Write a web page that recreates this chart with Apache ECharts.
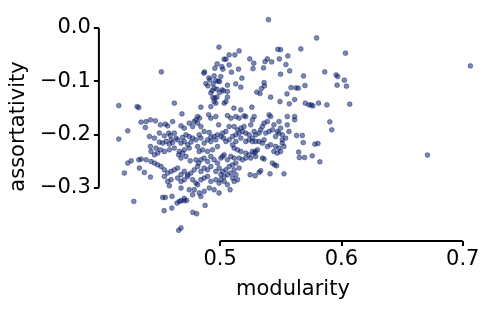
<!DOCTYPE html>
<html><head><meta charset="utf-8">
<script src="https://cdn.jsdelivr.net/npm/echarts@6/dist/echarts.min.js"></script>
<style>html,body{margin:0;padding:0;background:#fff}#c{width:498px;height:309px}</style>
</head><body><div id="c"></div>
<script>
const xTicks = [0.5, 0.6, 0.7];
const yTicks = [-0.3, -0.2, -0.1, 0.0];
const xName = 'modularity';
const yName = 'assortativity';
const modularity = [
0.499,0.4975,0.4515,0.4956,0.4871,0.4866,0.495,0.4915,0.4964,0.4983,0.4882,0.4899,0.4942,0.4995,0.495,0.4973,0.4934,0.4995,0.494,0.4956,0.4973,0.4923,0.4907,
0.5398,0.5795,0.6033,0.5665,0.5476,0.5498,0.5558,0.5074,0.5121,0.5156,0.5033,0.5047,0.5014,0.5022,0.5074,0.5093,0.5151,0.5244,0.5277,0.5271,0.5357,0.537,0.5389,0.5425,0.5488,0.5542,0.5573,0.5498,0.5687,0.5862,0.5956,0.5969,0.6024,0.5964,0.6041,0.5179,0.5128,0.506,0.517,0.5362,0.5365,0.534,0.5302,0.5329,0.5016,0.5028,0.506,0.5416,0.5551,0.5584,0.5614,0.5625,0.5644,0.5699,0.5005,0.506,
0.4164,0.4315,0.4329,0.4622,0.4841,0.4923,0.4964,0.495,0.4685,0.4814,0.483,0.48,0.4905,0.4923,0.4964,0.4348,0.4389,0.4425,0.4466,0.4507,0.4548,0.4567,0.4608,0.4677,0.4704,0.4745,0.4773,0.4786,0.4814,0.4841,0.4868,0.491,0.4987,0.495,0.4923,0.4978,0.4383,0.4238,0.4164,0.4417,0.4458,0.4499,0.454,0.4576,0.4589,0.4622,0.4636,0.4595,0.4554,0.4499,0.4526,0.4581,0.4608,0.4649,0.469,0.4718,0.4745,0.4773,0.4827,0.4841,0.48,0.4759,0.4704,0.4677,0.4732,0.4814,0.4868,0.4896,0.4923,0.4964,0.4978,0.4937,0.4896,0.4855,0.4827,0.4745,0.4704,0.469,0.4663,0.4622,0.4581,0.454,0.4485,0.4458,0.4425,0.443,0.4471,0.4507,0.4658,0.4677,0.4718,0.4753,0.48,0.4822,0.4841,0.4868,0.4896,0.4923,0.495,0.4978,0.4991,0.4964,0.4923,0.4896,0.4868,0.4841,0.4814,0.4786,0.4759,0.4732,0.4704,0.4677,0.4649,0.4622,0.4595,0.4567,0.454,0.4513,0.4485,0.4458,0.443,0.4389,0.4348,0.4329,0.4266,0.4238,0.421,0.4334,0.4375,0.4425,0.454,0.4567,0.4595,0.4649,0.4677,0.4704,0.4732,0.4773,0.48,0.4814,0.4841,0.4868,0.4896,0.4923,0.4964,0.4991,0.4581,0.4677,0.4745,0.4786,0.4773,0.4827,0.4868,0.491,0.495,0.4991,0.4526,0.4548,0.4603,0.4704,0.4841,
0.4288,0.4876,0.4774,0.4806,0.4538,0.4601,0.4644,0.4663,0.4677,0.4704,0.4724,0.4658,0.4677,
0.5047,0.5033,0.5113,0.517,0.5261,0.5493,0.557,0.5702,0.5732,0.5751,0.5764,0.5811,0.588,0.6068,
0.506,0.5088,0.5129,0.5156,0.5197,0.5211,0.5266,0.528,0.5252,0.5197,0.517,0.5143,0.5115,0.5074,0.5047,0.502,0.5006,0.5028,0.5047,0.5074,0.5102,0.5129,0.5156,0.5184,0.5211,0.5238,0.5266,0.5293,0.528,0.5321,0.5334,0.5348,0.5362,0.5389,0.5403,0.5416,0.5443,0.543,0.5403,0.5375,0.5362,0.5348,0.5321,0.5293,0.5266,0.5238,0.5211,0.517,0.5129,0.5102,0.5115,0.5143,0.517,0.5211,0.5238,0.528,0.5293,0.5307,0.5266,0.5252,0.5293,0.5348,0.5362,0.5389,0.5416,0.5457,0.5485,0.5512,0.5526,0.5498,0.5471,0.5443,0.5457,0.5485,0.5512,0.5471,0.5498,0.5553,0.5553,0.5614,0.5614,0.5567,0.554,0.5512,0.5485,0.563,0.5677,0.5685,0.5647,0.5653,0.5696,0.5759,0.5781,0.5806,0.5822,0.5904,0.592,
0.5033,0.502,0.5006,0.506,0.5088,0.5115,0.5156,0.5184,0.5211,0.5129,0.5102,0.5074,0.5047,0.502,0.5006,0.5033,0.506,0.5088,0.5115,0.5156,0.5129,0.5102,0.5143,0.5115,0.506,0.5082,0.5033,0.5006,0.5247,0.5288,0.5321,0.5334,0.5411,0.543,0.5449,0.5465,0.5526,
0.7063,0.6709
];
const assortativity = [
-0.036,-0.0675,-0.0825,-0.0756,-0.0825,-0.0849,-0.090,-0.0975,-0.0988,-0.100,-0.1044,-0.1088,-0.105,-0.1007,-0.1131,-0.115,-0.1176,-0.1213,-0.1307,-0.1318,-0.1299,-0.1219,-0.0938,
0.0156,-0.0188,-0.0474,-0.0394,-0.040,-0.0407,-0.0525,-0.0506,-0.0506,-0.0431,-0.0587,-0.0587,-0.0726,-0.0774,-0.0694,-0.083,-0.0774,-0.0581,-0.0662,-0.0763,-0.075,-0.0632,-0.0581,-0.0638,-0.0581,-0.0688,-0.0806,-0.0868,-0.090,-0.0825,-0.0881,-0.0913,-0.0981,-0.1074,-0.1093,-0.0943,-0.105,-0.1074,-0.1112,-0.1026,-0.1088,-0.1138,-0.1206,-0.1232,-0.1163,-0.1181,-0.1194,-0.1299,-0.1238,-0.1119,-0.1344,-0.1125,-0.1131,-0.1082,-0.0913,-0.1299,
-0.1457,-0.1476,-0.1494,-0.1412,-0.1487,-0.1476,-0.1412,-0.1382,-0.1613,-0.1663,-0.1693,-0.1725,-0.1631,-0.1693,-0.1663,-0.1768,-0.1757,-0.1725,-0.1744,-0.1819,-0.1806,-0.1838,-0.1757,-0.1838,-0.1881,-0.1787,-0.1851,-0.1757,-0.1787,-0.1851,-0.1944,-0.1963,-0.1819,-0.2038,-0.2049,-0.2006,-0.1869,-0.1931,-0.2087,-0.2038,-0.2068,-0.1974,-0.2025,-0.1974,-0.2019,-0.1974,-0.2068,-0.21,-0.2132,-0.2143,-0.2162,-0.2181,-0.2151,-0.21,-0.2057,-0.2006,-0.2038,-0.2068,-0.2006,-0.2068,-0.21,-0.2143,-0.2132,-0.2162,-0.2194,-0.2226,-0.2162,-0.21,-0.2132,-0.21,-0.2226,-0.2288,-0.2319,-0.2288,-0.2319,-0.2256,-0.2288,-0.2349,-0.2319,-0.2256,-0.2288,-0.2319,-0.2349,-0.2381,-0.2226,-0.2319,-0.2256,-0.2288,-0.2381,-0.2443,-0.2413,-0.2494,-0.2475,-0.2537,-0.2475,-0.2443,-0.2507,-0.2413,-0.2475,-0.2537,-0.263,-0.2694,-0.2601,-0.2663,-0.263,-0.2694,-0.2601,-0.2663,-0.2724,-0.2756,-0.2694,-0.2756,-0.263,-0.2663,-0.2694,-0.2724,-0.2663,-0.2601,-0.2569,-0.2537,-0.2507,-0.2475,-0.2462,-0.2475,-0.2494,-0.2537,-0.2724,-0.263,-0.2713,-0.2799,-0.2788,-0.2882,-0.285,-0.2818,-0.2882,-0.285,-0.2788,-0.285,-0.2912,-0.2944,-0.285,-0.2818,-0.2788,-0.2882,-0.285,-0.2912,-0.2963,-0.3006,-0.3038,-0.3038,-0.3131,-0.3099,-0.3069,-0.3006,-0.3038,-0.3099,-0.3182,-0.3182,-0.3163,-0.3201,-0.3163,
-0.3257,-0.3332,-0.3463,-0.3488,-0.3431,-0.3381,-0.3287,-0.3257,-0.3244,-0.3244,-0.3238,-0.380,-0.3756,
-0.1382,-0.1412,-0.1506,-0.1538,-0.1487,-0.1382,-0.1425,-0.1412,-0.1444,-0.1444,-0.1463,-0.1412,-0.1444,-0.1431,
-0.1644,-0.1693,-0.1663,-0.1693,-0.165,-0.1663,-0.1725,-0.1663,-0.1819,-0.1851,-0.1881,-0.1913,-0.1851,-0.1851,-0.1944,-0.1974,-0.2038,-0.2068,-0.2132,-0.21,-0.2038,-0.2006,-0.1974,-0.1944,-0.1974,-0.2006,-0.2068,-0.2006,-0.1944,-0.1974,-0.1913,-0.1851,-0.1787,-0.1757,-0.1631,-0.1663,-0.1819,-0.1913,-0.1944,-0.1974,-0.21,-0.2162,-0.2132,-0.2132,-0.2132,-0.21,-0.2132,-0.2068,-0.2132,-0.2194,-0.2256,-0.2288,-0.2319,-0.2349,-0.2381,-0.2349,-0.2319,-0.2288,-0.2319,-0.2443,-0.2413,-0.2443,-0.2462,-0.2226,-0.2194,-0.2226,-0.2256,-0.2162,-0.2226,-0.2319,-0.2349,-0.2319,-0.2038,-0.1974,-0.2006,-0.1944,-0.1881,-0.1819,-0.1663,-0.1663,-0.1725,-0.1944,-0.2068,-0.21,-0.1757,-0.2019,-0.2019,-0.2151,-0.233,-0.2432,-0.2432,-0.24,-0.2181,-0.2169,-0.2513,-0.1763,-0.1913,
-0.2381,-0.2413,-0.2443,-0.2475,-0.2413,-0.2443,-0.2443,-0.2475,-0.2443,-0.2537,-0.2569,-0.2601,-0.2663,-0.2694,-0.2756,-0.2788,-0.2756,-0.2724,-0.2663,-0.263,-0.2756,-0.2818,-0.285,-0.2882,-0.2944,-0.3038,-0.2882,-0.285,-0.2756,-0.2775,-0.2713,-0.2681,-0.2738,-0.2537,-0.2569,-0.2588,-0.2738,
-0.0713,-0.2387
];
const points = modularity.map((m, i) => [m, assortativity[i]]);
const xMin = 0.4, xMax = 0.72, yMin = -0.4, yMax = 0.03;
const fmt = v => (Math.abs(v) < 1e-9 ? '0.0' : v.toFixed(1).replace('-', '\u2212'));
const font = 'DejaVu Sans';
const chart = echarts.init(document.getElementById('c'), null, {renderer: 'canvas'});
chart.setOption({
  animation: false,
  grid: {left: 98, right: 11, top: 12, bottom: 68},
  xAxis: {
    type: 'value', min: xMin, max: xMax,
    name: xName, nameLocation: 'middle', nameGap: 38,
    nameTextStyle: {fontFamily: font, fontSize: 21, color: '#000'},
    axisLine: {show: false, onZero: false},
    axisTick: {show: true, customValues: xTicks, length: 5, lineStyle: {color: '#000', width: 2}},
    axisLabel: {customValues: xTicks, formatter: fmt, margin: 8, fontFamily: font, fontSize: 21, color: '#000'},
    splitLine: {show: false}
  },
  yAxis: {
    type: 'value', min: yMin, max: yMax,
    name: yName, nameLocation: 'middle', nameGap: 63,
    nameTextStyle: {fontFamily: font, fontSize: 21, color: '#000'},
    axisLine: {show: false, onZero: false},
    axisTick: {show: true, customValues: yTicks, length: 5, lineStyle: {color: '#000', width: 2}},
    axisLabel: {customValues: yTicks, formatter: fmt, margin: 8, fontFamily: font, fontSize: 21, color: '#000'},
    splitLine: {show: false}
  },
  series: [
    {
      type: 'scatter', data: points, symbolSize: 4.8, clip: false,
      itemStyle: {color: 'rgba(8,29,105,0.66)', borderColor: 'rgba(8,29,105,0.66)', borderWidth: 0.8}
    },
    {
      type: 'line', silent: true, clip: false, symbol: 'none',
      data: [[xTicks[0], yMin], [xTicks[xTicks.length - 1], yMin]],
      lineStyle: {color: '#000', width: 2}
    },
    {
      type: 'line', silent: true, clip: false, symbol: 'none',
      data: [[xMin, yTicks[0]], [xMin, yTicks[yTicks.length - 1]]],
      lineStyle: {color: '#000', width: 2}
    }
  ]
});
</script></body></html>
